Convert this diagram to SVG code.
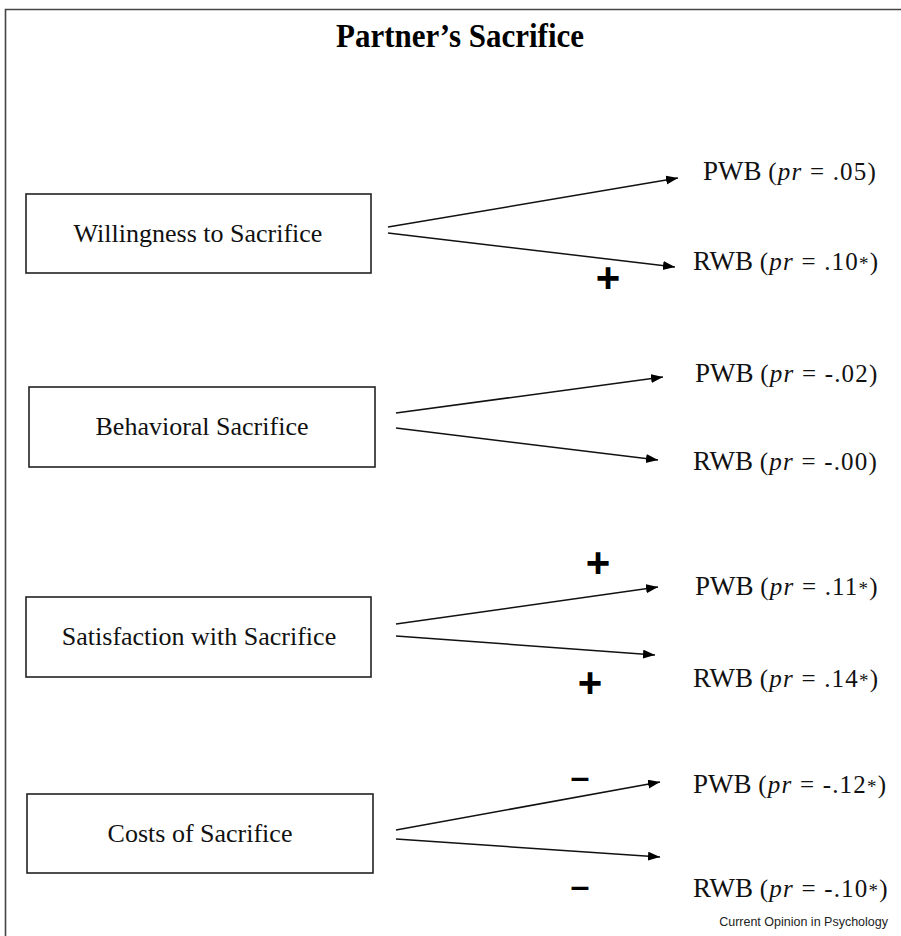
<svg xmlns="http://www.w3.org/2000/svg" width="901" height="936" viewBox="0 0 901 936">
<defs>
<marker id="ah" markerUnits="userSpaceOnUse" markerWidth="13" markerHeight="10" refX="12" refY="4.5" orient="auto">
<path d="M0,0 L12,4.5 L0,9 z" fill="#000"/>
</marker>
<style>
.frame{fill:none;stroke:#444;stroke-width:1.6}
.box{fill:#fff;stroke:#222;stroke-width:1.6}
.bt{font-family:"Liberation Serif","Times New Roman",serif;font-size:26px;fill:#111;text-anchor:middle}
.title{font-family:"Liberation Serif","Times New Roman",serif;font-size:31px;font-weight:bold;fill:#000;text-anchor:middle}
.lbl{font-family:"Liberation Serif","Times New Roman",serif;font-size:27px;fill:#111}
.par{font-size:25px;letter-spacing:1.2px}
.ast{font-size:19px}
.edge{stroke:#111;stroke-width:1.5;fill:none;marker-end:url(#ah)}
.sign{font-family:"Liberation Sans",Arial,sans-serif;font-weight:bold;fill:#000;text-anchor:middle}
.plus{font-size:42px}
.minus{font-size:34px}
.credit{font-family:"Liberation Sans",Arial,sans-serif;font-size:12.5px;fill:#222;text-anchor:end}
</style>
</defs>
<rect width="901" height="936" fill="#fff"/>
<path class="frame" d="M5.5,936 L5.5,9.5 L901,9.5"/>
<text class="title" transform="translate(460,47) scale(1,1.12)" x="0" y="0">Partner’s Sacrifice</text>

<g id="connectors">
<line class="edge" x1="388" y1="227" x2="678" y2="178"/>
<line class="edge" x1="388" y1="233" x2="675" y2="267"/>
<line class="edge" x1="396" y1="413" x2="663" y2="377"/>
<line class="edge" x1="396" y1="428" x2="658" y2="460"/>
<line class="edge" x1="396" y1="624" x2="658" y2="587"/>
<line class="edge" x1="396" y1="636" x2="655" y2="655"/>
<line class="edge" x1="396" y1="830" x2="660" y2="782"/>
<line class="edge" x1="396" y1="839" x2="660" y2="857"/>
</g>

<g id="signs">
<text class="sign plus" x="608" y="292">+</text>
<text class="sign plus" x="598" y="577">+</text>
<text class="sign plus" x="590" y="697">+</text>
<text class="sign minus" x="580" y="788">–</text>
<text class="sign minus" x="580" y="897">–</text>
</g>

<g id="willingness">
<rect class="box" x="26" y="194" width="345" height="79"/>
<text class="bt" x="198" y="242">Willingness to Sacrifice</text>
</g>
<g id="behavioral">
<rect class="box" x="29" y="387" width="346" height="80"/>
<text class="bt" x="202" y="435">Behavioral Sacrifice</text>
</g>
<g id="satisfaction">
<rect class="box" x="26" y="597" width="345" height="80"/>
<text class="bt" x="199" y="645">Satisfaction with Sacrifice</text>
</g>
<g id="costs">
<rect class="box" x="27" y="794" width="346" height="79"/>
<text class="bt" x="200" y="842">Costs of Sacrifice</text>
</g>

<g id="pwb1"><text class="lbl" x="703" y="180">PWB <tspan class="par">(<tspan font-style="italic">pr</tspan> = .05)</tspan></text></g>
<g id="rwb1"><text class="lbl" x="693" y="270">RWB <tspan class="par">(<tspan font-style="italic">pr</tspan> = .10<tspan class="ast">*</tspan>)</tspan></text></g>
<g id="pwb2"><text class="lbl" x="695" y="382">PWB <tspan class="par">(<tspan font-style="italic">pr</tspan> = -.02)</tspan></text></g>
<g id="rwb2"><text class="lbl" x="693" y="470">RWB <tspan class="par">(<tspan font-style="italic">pr</tspan> = -.00)</tspan></text></g>
<g id="pwb3"><text class="lbl" x="695" y="595">PWB <tspan class="par">(<tspan font-style="italic">pr</tspan> = .11<tspan class="ast">*</tspan>)</tspan></text></g>
<g id="rwb3"><text class="lbl" x="693" y="687">RWB <tspan class="par">(<tspan font-style="italic">pr</tspan> = .14<tspan class="ast">*</tspan>)</tspan></text></g>
<g id="pwb4"><text class="lbl" x="693" y="793">PWB <tspan class="par">(<tspan font-style="italic">pr</tspan> = -.12<tspan class="ast">*</tspan>)</tspan></text></g>
<g id="rwb4"><text class="lbl" x="693" y="897">RWB <tspan class="par">(<tspan font-style="italic">pr</tspan> = -.10<tspan class="ast">*</tspan>)</tspan></text></g>

<text class="credit" x="888" y="926">Current Opinion in Psychology</text>
</svg>
